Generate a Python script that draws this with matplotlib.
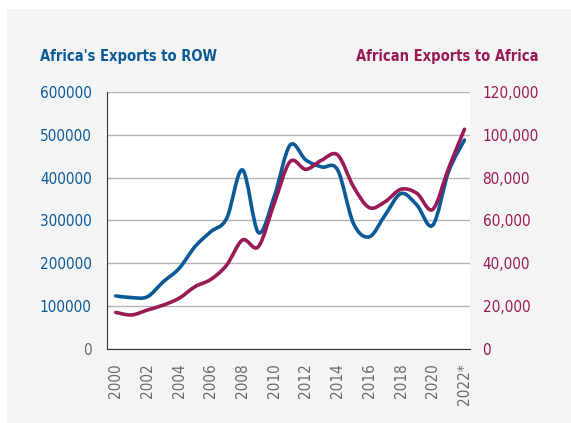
import numpy as np
import matplotlib
matplotlib.use('Agg')
import matplotlib.pyplot as plt
from matplotlib.path import Path
from matplotlib.patches import PathPatch, Rectangle

# Data ----------------------------------------------------------------------
years = list(range(2000, 2023))
row_exports = [124000, 120000, 122000, 157000, 188000, 239000, 274000, 305000,
               418000, 272000, 356000, 476000, 441000, 425000, 418000, 293000,
               262000, 313000, 363000, 336000, 289000, 414000, 488000]
africa_exports = [17100, 15900, 18200, 20500, 23700, 29100, 32500, 39200,
                  50900, 47800, 68000, 87500, 83900, 88200, 90600, 75800,
                  66000, 68800, 74600, 72700, 65200, 84400, 102600]
xtick_years = list(range(2000, 2023, 2))
xtick_labels = [str(y) for y in xtick_years[:-1]] + ['2022*']
left_ticks = [0, 100000, 200000, 300000, 400000, 500000, 600000]
right_ticks = [0, 20000, 40000, 60000, 80000, 100000, 120000]

blue = '#0a5a98'
red = '#9a1a56'
grey = '#6b6b6b'

plt.rcParams['font.family'] = ['Liberation Sans Narrow', 'DejaVu Sans']
plt.rcParams['font.stretch'] = 'condensed'


def smooth_path(xs, ys):
    # Catmull-Rom style smoothing, like Excel's "smoothed line"
    xs = np.asarray(xs, float)
    ys = np.asarray(ys, float)
    pts = np.column_stack([xs, ys])
    verts = [pts[0]]
    codes = [Path.MOVETO]
    n = len(pts)
    for i in range(n - 1):
        p0 = pts[i - 1] if i > 0 else pts[i]
        p1 = pts[i]
        p2 = pts[i + 1]
        p3 = pts[i + 2] if i + 2 < n else pts[i + 1]
        c1 = p1 + (p2 - p0) / 6
        c2 = p2 - (p3 - p1) / 6
        verts += [c1, c2, p2]
        codes += [Path.CURVE4] * 3
    return Path(verts, codes)


fig = plt.figure(figsize=(5.71, 4.23), dpi=100)
fig.patch.set_facecolor('white')
fig.patches.append(Rectangle((7 / 571, 0), 1, 1 - 9 / 423, transform=fig.transFigure,
                             facecolor='#f4f4f4', edgecolor='none', zorder=-5))

ax = fig.add_axes([107 / 571, 74 / 423, 363 / 571, 257 / 423])
ax.set_facecolor('white')
ax2 = ax.twinx()

ax.add_patch(PathPatch(smooth_path(years, row_exports), facecolor='none',
                       edgecolor=blue, lw=2.6, capstyle='round', zorder=3))
ax2.add_patch(PathPatch(smooth_path(years, africa_exports), facecolor='none',
                        edgecolor=red, lw=2.6, capstyle='round', zorder=3))

ax.set_xlim(1999.45, 2022.35)
ax.set_ylim(0, 600000)
ax2.set_ylim(0, 120000)

ax.set_yticks(left_ticks)
ax.set_yticklabels([str(v) for v in left_ticks])
ax2.set_yticks(right_ticks)
ax2.set_yticklabels([f'{v:,}' for v in right_ticks])
ax.set_xticks(xtick_years)
ax.set_xticklabels(xtick_labels, rotation=90)

ax.grid(axis='y', color='#b5b5b5', lw=1)
ax.set_axisbelow(True)
ax.tick_params(axis='y', length=0, pad=11, labelsize=11, labelcolor=blue)
ax.tick_params(axis='x', length=0, pad=10, labelsize=11, labelcolor=grey)
ax2.tick_params(axis='y', length=0, pad=9, labelsize=11, labelcolor=red)
ax.get_yticklabels()[0].set_color(grey)

for a in (ax, ax2):
    a.spines['top'].set_visible(False)
    a.spines['right'].set_visible(False)
ax2.spines['left'].set_visible(False)
ax2.spines['bottom'].set_visible(False)
ax.spines['left'].set_color('#333333')
ax.spines['bottom'].set_color('#333333')

fig.text(40 / 571, 1 - 56 / 423, "Africa's Exports to ROW", color=blue,
         fontsize=10.5, fontweight='bold', va='center', ha='left')
fig.text(539 / 571, 1 - 56 / 423, 'African Exports to Africa', color=red,
         fontsize=10.5, fontweight='bold', va='center', ha='right')

fig.savefig('out.png', dpi=100)
